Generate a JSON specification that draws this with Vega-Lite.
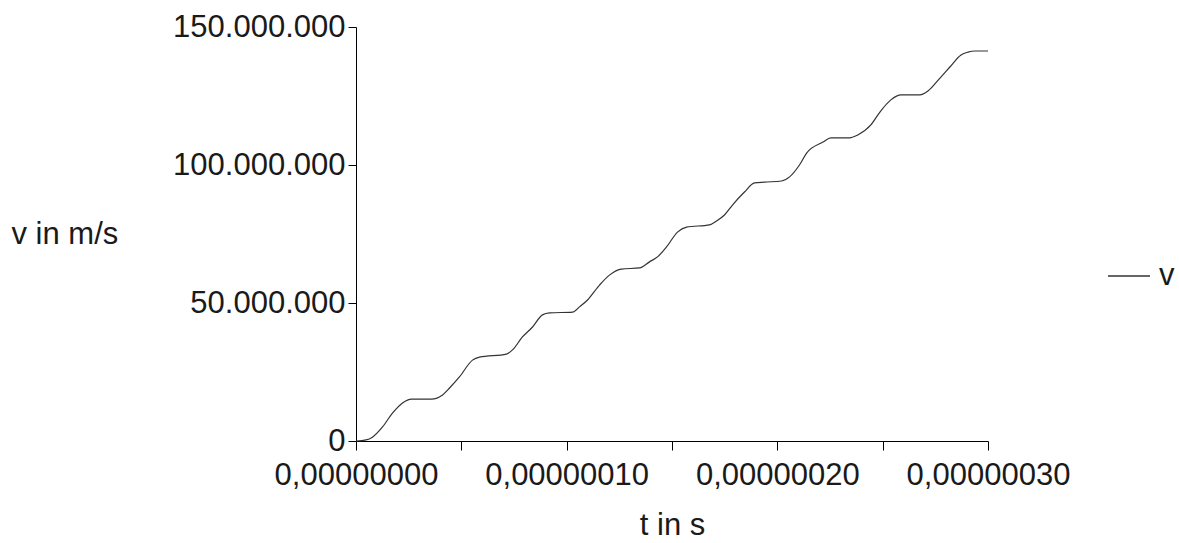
{
  "$schema": "https://vega.github.io/schema/vega-lite/v6.json",
  "autosize": "none",
  "padding": {"left": 356, "top": 27, "right": 191, "bottom": 102},
  "width": 632,
  "height": 414,
  "background": "white",
  "config": {
    "view": {"stroke": null},
    "font": "Liberation Sans",
    "axis": {
      "grid": false,
      "domainColor": "#000000",
      "tickColor": "#000000",
      "domainWidth": 1,
      "tickWidth": 1,
      "labelFont": "Liberation Sans",
      "labelFontSize": 31,
      "labelColor": "#1a1a1a",
      "titleFont": "Liberation Sans",
      "titleFontSize": 31,
      "titleFontWeight": "normal",
      "titleColor": "#1a1a1a"
    },
    "legend": {
      "labelFont": "Liberation Sans",
      "labelFontSize": 31,
      "labelColor": "#1a1a1a"
    }
  },
  "data": {
    "values": [
      {"t": 0, "v": 0, "series": "v"},
      {"t": 4.8e-9, "v": 400000, "series": "v"},
      {"t": 7.8e-9, "v": 1400000, "series": "v"},
      {"t": 12.6e-9, "v": 5100000, "series": "v"},
      {"t": 17.3e-9, "v": 10100000, "series": "v"},
      {"t": 22.1e-9, "v": 13800000, "series": "v"},
      {"t": 26.3e-9, "v": 15200000, "series": "v"},
      {"t": 35.8e-9, "v": 15200000, "series": "v"},
      {"t": 41.1e-9, "v": 16700000, "series": "v"},
      {"t": 44.4e-9, "v": 19200000, "series": "v"},
      {"t": 49.1e-9, "v": 23200000, "series": "v"},
      {"t": 55.3e-9, "v": 29300000, "series": "v"},
      {"t": 58.6e-9, "v": 30400000, "series": "v"},
      {"t": 71.4e-9, "v": 31500000, "series": "v"},
      {"t": 74.3e-9, "v": 33000000, "series": "v"},
      {"t": 79.0e-9, "v": 37700000, "series": "v"},
      {"t": 83.8e-9, "v": 41300000, "series": "v"},
      {"t": 88.5e-9, "v": 45700000, "series": "v"},
      {"t": 91.9e-9, "v": 46400000, "series": "v"},
      {"t": 102.8e-9, "v": 46700000, "series": "v"},
      {"t": 106.1e-9, "v": 48600000, "series": "v"},
      {"t": 109.9e-9, "v": 51100000, "series": "v"},
      {"t": 115.6e-9, "v": 56500000, "series": "v"},
      {"t": 120.3e-9, "v": 60100000, "series": "v"},
      {"t": 126.0e-9, "v": 62300000, "series": "v"},
      {"t": 134.6e-9, "v": 62700000, "series": "v"},
      {"t": 139.3e-9, "v": 64900000, "series": "v"},
      {"t": 143.1e-9, "v": 66700000, "series": "v"},
      {"t": 147.4e-9, "v": 70300000, "series": "v"},
      {"t": 152.6e-9, "v": 75700000, "series": "v"},
      {"t": 156.9e-9, "v": 77500000, "series": "v"},
      {"t": 167.8e-9, "v": 78300000, "series": "v"},
      {"t": 171.1e-9, "v": 79700000, "series": "v"},
      {"t": 174.9e-9, "v": 81900000, "series": "v"},
      {"t": 178.7e-9, "v": 85500000, "series": "v"},
      {"t": 184.4e-9, "v": 90200000, "series": "v"},
      {"t": 189.2e-9, "v": 93500000, "series": "v"},
      {"t": 193.9e-9, "v": 93800000, "series": "v"},
      {"t": 202.0e-9, "v": 94200000, "series": "v"},
      {"t": 205.8e-9, "v": 95700000, "series": "v"},
      {"t": 210.5e-9, "v": 100000000, "series": "v"},
      {"t": 213.9e-9, "v": 104300000, "series": "v"},
      {"t": 221.7e-9, "v": 108300000, "series": "v"},
      {"t": 225.4e-9, "v": 109800000, "series": "v"},
      {"t": 233.5e-9, "v": 109800000, "series": "v"},
      {"t": 238.2e-9, "v": 110900000, "series": "v"},
      {"t": 244.4e-9, "v": 114500000, "series": "v"},
      {"t": 248.7e-9, "v": 119200000, "series": "v"},
      {"t": 253.9e-9, "v": 123600000, "series": "v"},
      {"t": 258.7e-9, "v": 125400000, "series": "v"},
      {"t": 267.7e-9, "v": 125400000, "series": "v"},
      {"t": 271.5e-9, "v": 126800000, "series": "v"},
      {"t": 277.2e-9, "v": 131500000, "series": "v"},
      {"t": 281.9e-9, "v": 135500000, "series": "v"},
      {"t": 287.2e-9, "v": 139900000, "series": "v"},
      {"t": 290.5e-9, "v": 140900000, "series": "v"},
      {"t": 293.8e-9, "v": 141300000, "series": "v"},
      {"t": 300e-9, "v": 141300000, "series": "v"}
    ]
  },
  "mark": {"type": "line", "strokeWidth": 1.2, "interpolate": "monotone"},
  "encoding": {
    "x": {
      "field": "t",
      "type": "quantitative",
      "scale": {"domain": [0, 3e-7], "nice": false, "zero": false},
      "axis": {
        "title": "t in s",
        "values": [0, 5e-8, 1e-7, 1.5e-7, 2e-7, 2.5e-7, 3e-7],
        "labelExpr": "round(datum.value*1e8) % 10 == 0 ? replace(format(datum.value, '.8f'), '.', ',') : ''",
        "tickSize": 9,
        "labelPadding": 10,
        "labelFlush": false,
        "labelOverlap": false,
        "titleBaseline": "middle",
        "titleY": 84
      }
    },
    "y": {
      "field": "v",
      "type": "quantitative",
      "scale": {"domain": [0, 150000000], "nice": false},
      "axis": {
        "title": "v in m/s",
        "values": [0, 50000000, 100000000, 150000000],
        "labelExpr": "replace(format(datum.value, ','), regexp(',', 'g'), '.')",
        "tickSize": 8,
        "labelPadding": 3,
        "labelFlush": false,
        "labelOverlap": false,
        "titleAngle": 0,
        "titleAlign": "left",
        "titleBaseline": "middle",
        "titleX": -345,
        "titleY": 207
      }
    },
    "color": {
      "field": "series",
      "type": "nominal",
      "scale": {"range": ["#333333"]},
      "legend": {
        "title": null,
        "orient": "none",
        "legendX": 751,
        "legendY": 227,
        "padding": 0,
        "symbolType": "stroke",
        "symbolSize": 1764,
        "symbolStrokeWidth": 1.5,
        "labelOffset": 8
      }
    }
  }
}
